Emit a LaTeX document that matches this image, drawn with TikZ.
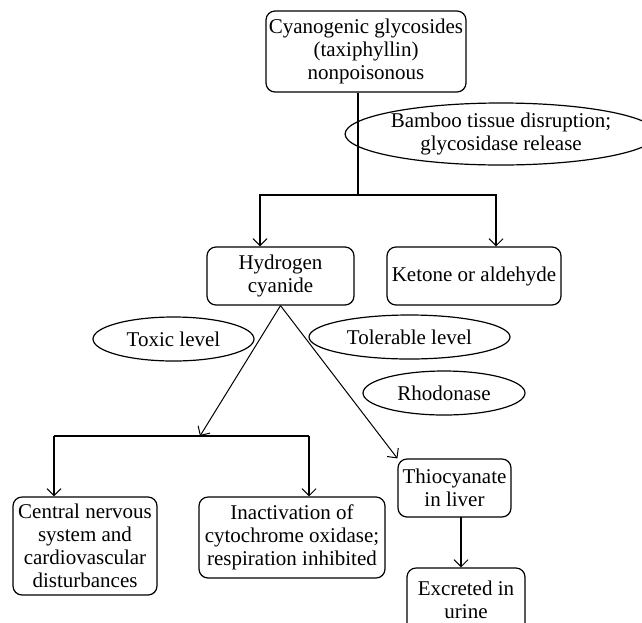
\documentclass[tikz,border=0pt]{standalone}
\usepackage{fontspec}
\setmainfont{Liberation Serif}
\usetikzlibrary{arrows.meta,shapes.geometric}

\begin{document}
\begin{tikzpicture}[x=0.5pt,y=-0.5pt,
    font=\fontsize{10.5}{11.5}\selectfont,
    box/.style={draw,rounded corners=4.5pt,line width=0.6pt,align=center,inner sep=0pt},
    oval/.style={draw,ellipse,line width=0.6pt,align=center,inner sep=0pt},
    link/.style={line width=1pt,-{Straight Barb[length=3.5pt,width=7pt,line width=0.5pt]}},
    thinlink/.style={line width=0.5pt,-{Straight Barb[length=3.5pt,width=7pt,line width=0.5pt]}}]
    \useasboundingbox (0,0) rectangle (642,622);
    % boxes
    \node[box,minimum width=100pt,minimum height=40.5pt] (glyc) at (366,51.5)
        {Cyanogenic glycosides\\(taxiphyllin)\\nonpoisonous};
    \node[oval,minimum width=138pt,minimum height=31pt] (bamboo) at (501,134)
        {Bamboo tissue disruption;\\glycosidase release};
    \node[box,minimum width=73.5pt,minimum height=29pt] (hcn) at (280.5,276)
        {Hydrogen\\cyanide};
    \node[box,minimum width=87pt,minimum height=29pt] (ketone) at (474,276)
        {Ketone or aldehyde};
    \node[oval,minimum width=80.5pt,minimum height=22pt] (toxic) at (173.5,339)
        {Toxic level};
    \node[oval,minimum width=100.5pt,minimum height=22pt] (tolerable) at (409.5,337)
        {Tolerable level};
    \node[oval,minimum width=81pt,minimum height=22pt] (rhod) at (444,393)
        {Rhodonase};
    \node[box,minimum width=72pt,minimum height=49pt] (cns) at (85,546)
        {Central nervous\\system and\\cardiovascular\\disturbances};
    \node[box,minimum width=93pt,minimum height=40.5pt] (inact) at (292,537.5)
        {Inactivation of\\cytochrome oxidase;\\respiration inhibited};
    \node[box,minimum width=56.5pt,minimum height=29pt] (thio) at (454.5,488)
        {Thiocyanate\\in liver};
    \node[box,minimum width=59pt,minimum height=32pt] (excr) at (466,600)
        {Excreted in\\urine};
    % branch points
    \coordinate (split) at (358,195);
    \coordinate (hl) at (260,195);
    \coordinate (hr) at (496,195);
    \coordinate (tox) at (200,436);
    \coordinate (bl) at (54,436);
    \coordinate (br) at (309,436);
    \coordinate (tx) at (461,517);
    % connectors
    \draw[line width=1pt] (glyc.south -| split) -- (split);
    \draw[link] (split) -- (hl) -- (hl |- hcn.north);
    \draw[link] (split) -- (hr) -- (hr |- ketone.north);
    \draw[thinlink] (hcn.south) -- (tox);
    \draw[thinlink] (hcn.south) -- (thio.north west);
    \draw[line width=1pt] (bl) -- (br);
    \draw[link] (bl) -- (bl |- cns.north);
    \draw[link] (br) -- (br |- inact.north);
    \draw[link] (tx) -- (tx |- excr.north);
\end{tikzpicture}
\end{document}
